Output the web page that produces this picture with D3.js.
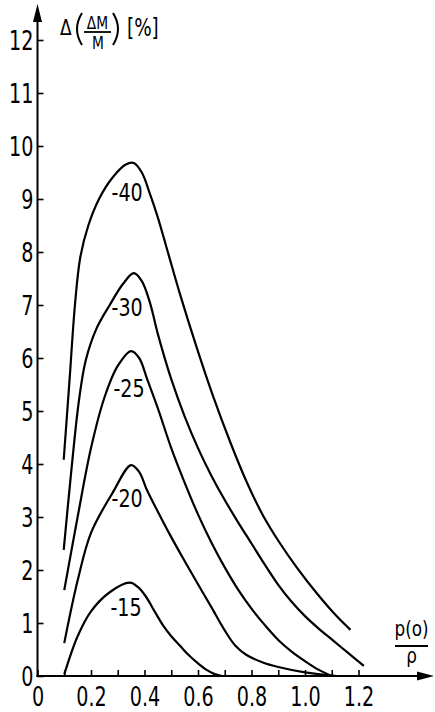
<!DOCTYPE html>
<html>
<head>
<meta charset="utf-8">
<script src="https://cdn.jsdelivr.net/npm/d3@7"></script>
<style>
  body { margin: 0; background: #fff; }
  text { font-family: "Liberation Sans Narrow", "DejaVu Sans Condensed", sans-serif; fill: #000; }
</style>
</head>
<body>
<svg id="chart" width="435" height="712"></svg>
<script>
// tick values
var xTicks = [0, 0.1, 0.2, 0.3, 0.4, 0.5, 0.6, 0.7, 0.8, 0.9, 1.0, 1.1, 1.2];
var xLabels = [0, 0.2, 0.4, 0.6, 0.8, 1.0, 1.2];
var yTicks = [0, 1, 2, 3, 4, 5, 6, 7, 8, 9, 10, 11, 12];

// curve names and the points: [p(o)/p, value]
var curveNames = ["-15", "-20", "-25", "-30", "-40"];
var curve15 = [[0.1, 0.03], [0.15, 0.75], [0.2, 1.22], [0.27, 1.58], [0.345, 1.76], [0.375, 1.68],
  [0.405, 1.5], [0.44, 1.2], [0.47, 0.95], [0.5, 0.75], [0.533, 0.57], [0.56, 0.42], [0.6, 0.24],
  [0.634, 0.11], [0.66, 0.04], [0.69, 0]];
var curve20 = [[0.1, 0.62], [0.15, 1.8], [0.2, 2.7], [0.28, 3.45], [0.35, 3.98], [0.38, 3.85],
  [0.41, 3.5], [0.45, 3.1], [0.5, 2.62], [0.55, 2.17], [0.6, 1.73], [0.65, 1.3], [0.7, 0.86],
  [0.74, 0.57], [0.78, 0.4], [0.84, 0.26], [0.9, 0.17], [1.0, 0.07], [1.12, 0]];
var curve25 = [[0.1, 1.62], [0.15, 3.0], [0.2, 4.3], [0.25, 5.25], [0.3, 5.85], [0.35, 6.13],
  [0.38, 6.0], [0.41, 5.6], [0.45, 5.05], [0.5, 4.3], [0.55, 3.65], [0.6, 3.05], [0.65, 2.52],
  [0.7, 2.05], [0.75, 1.63], [0.8, 1.27], [0.85, 0.96], [0.9, 0.68], [0.95, 0.46], [1.0, 0.28],
  [1.05, 0.12], [1.1, 0]];
var curve30 = [[0.098, 2.38], [0.125, 3.8], [0.155, 5.2], [0.18, 5.95], [0.22, 6.55], [0.27, 7.0],
  [0.32, 7.4], [0.36, 7.6], [0.39, 7.45], [0.42, 7.05], [0.45, 6.45], [0.5, 5.6], [0.55, 4.9],
  [0.6, 4.3], [0.65, 3.78], [0.7, 3.32], [0.75, 2.9], [0.8, 2.5], [0.85, 2.1], [0.9, 1.72],
  [0.95, 1.4], [1.0, 1.13], [1.05, 0.9], [1.1, 0.69], [1.16, 0.44], [1.22, 0.19]];
var curve40 = [[0.098, 4.08], [0.12, 5.6], [0.14, 7.0], [0.16, 7.9], [0.19, 8.5], [0.23, 9.0],
  [0.28, 9.4], [0.33, 9.65], [0.36, 9.68], [0.39, 9.5], [0.42, 9.1], [0.45, 8.65], [0.49, 7.95],
  [0.533, 7.2], [0.595, 6.2], [0.657, 5.27], [0.72, 4.42], [0.782, 3.66], [0.844, 3.02],
  [0.907, 2.5], [0.969, 2.05], [1.044, 1.56], [1.118, 1.13], [1.17, 0.87]];
// where each curve name sits, in data units
var labelAt = [[0.331, 1.3], [0.335, 3.36], [0.342, 5.43], [0.335, 6.96], [0.335, 9.13]];

var curves = [curve15, curve20, curve25, curve30, curve40];

var svg = d3.select("#chart");

var x = d3.scaleLinear().domain([0, 1]).range([37.5, 305]);
var y = d3.scaleLinear().domain([0, 12]).range([676, 40]);

var line = d3.line()
  .x(function(d) { return x(d[0]); })
  .y(function(d) { return y(d[1]); })
  .curve(d3.curveCatmullRom.alpha(0.5));

// x axis, ticks pointing up into the plot
var xAxis = svg.append("g")
  .attr("transform", "translate(0," + y(0) + ")")
  .call(d3.axisBottom(x)
    .tickValues(xTicks)
    .tickSize(-6)
    .tickPadding(0)
    .tickFormat(function(d) {
      if (xLabels.indexOf(Math.round(d * 10) / 10) < 0) return "";
      return d === 0 ? "0" : d3.format(".1f")(d);
    }));
xAxis.select(".domain").remove();
xAxis.selectAll("line").attr("stroke", "#000").attr("stroke-width", 1.6);
xAxis.selectAll("text")
  .attr("y", 0)
  .attr("dy", 0)
  .attr("transform", "translate(0,30) scale(0.82,1)")
  .style("font-size", "26px")
  .attr("text-anchor", "middle");

// y axis, ticks pointing right
var yAxis = svg.append("g")
  .attr("transform", "translate(" + x(0) + ",0)")
  .call(d3.axisLeft(y)
    .tickValues(yTicks)
    .tickSize(-6)
    .tickPadding(0)
    .tickFormat(d3.format("d")));
yAxis.select(".domain").remove();
yAxis.selectAll("line").attr("stroke", "#000").attr("stroke-width", 1.6);
yAxis.selectAll("text")
  .attr("x", 0)
  .attr("dy", 0)
  .attr("transform", "translate(-4,9) scale(0.82,1)")
  .style("font-size", "26px")
  .attr("text-anchor", "end");

// axis lines with arrow heads
svg.append("line")
  .attr("x1", x(0)).attr("y1", y(0) + 1)
  .attr("x2", x(0)).attr("y2", 14)
  .attr("stroke", "#000").attr("stroke-width", 2);
svg.append("path")
  .attr("d", "M" + x(0) + ",4L" + (x(0) - 4.5) + ",22L" + (x(0) + 4.5) + ",22Z")
  .attr("fill", "#000");
svg.append("line")
  .attr("x1", x(0) - 1).attr("y1", y(0))
  .attr("x2", 424).attr("y2", y(0))
  .attr("stroke", "#000").attr("stroke-width", 2);
svg.append("path")
  .attr("d", "M434," + y(0) + "L417," + (y(0) - 4.5) + "L417," + (y(0) + 4.5) + "Z")
  .attr("fill", "#000");

// curves
svg.append("g")
  .selectAll("path")
  .data(curves)
  .enter().append("path")
  .attr("d", line)
  .attr("fill", "none")
  .attr("stroke", "#000")
  .attr("stroke-width", 2.2);

svg.append("g")
  .selectAll("text")
  .data(curveNames)
  .enter().append("text")
  .attr("transform", function(d, i) {
    return "translate(" + x(labelAt[i][0]) + "," + (y(labelAt[i][1]) + 9) + ") scale(0.85,1)";
  })
  .attr("text-anchor", "middle")
  .style("font-size", "25px")
  .text(function(d) { return d; });

// y axis title: Δ(ΔM/M) [%]
var yTitle = svg.append("g");
yTitle.append("text").attr("transform", "translate(60,35) scale(0.9,1)")
  .style("font-size", "21px").text("Δ");
yTitle.append("path").attr("d", "M82,13Q72,29 82,45")
  .attr("fill", "none").attr("stroke", "#000").attr("stroke-width", 2);
yTitle.append("text").attr("transform", "translate(97.5,28.5) scale(0.9,1)")
  .attr("text-anchor", "middle").style("font-size", "17px").text("ΔM");
yTitle.append("line").attr("x1", 84).attr("x2", 111).attr("y1", 32).attr("y2", 32)
  .attr("stroke", "#000").attr("stroke-width", 1.8);
yTitle.append("text").attr("transform", "translate(98,49) scale(0.9,1)")
  .attr("text-anchor", "middle").style("font-size", "17px").text("M");
yTitle.append("path").attr("d", "M113,13Q123,29 113,45")
  .attr("fill", "none").attr("stroke", "#000").attr("stroke-width", 2);
yTitle.append("text").attr("transform", "translate(127,36) scale(0.85,1)")
  .style("font-size", "24px").text("[%]");

// x axis title: p(o)/p
var xTitle = svg.append("g");
xTitle.append("text").attr("transform", "translate(411.5,636) scale(0.85,1)")
  .attr("text-anchor", "middle").style("font-size", "22px").text("p(o)");
xTitle.append("line").attr("x1", 395).attr("x2", 428).attr("y1", 646).attr("y2", 646)
  .attr("stroke", "#000").attr("stroke-width", 1.8);
xTitle.append("text").attr("transform", "translate(411.5,663) scale(0.85,1)")
  .attr("text-anchor", "middle").style("font-size", "22px").text("ρ");
</script>
</body>
</html>
